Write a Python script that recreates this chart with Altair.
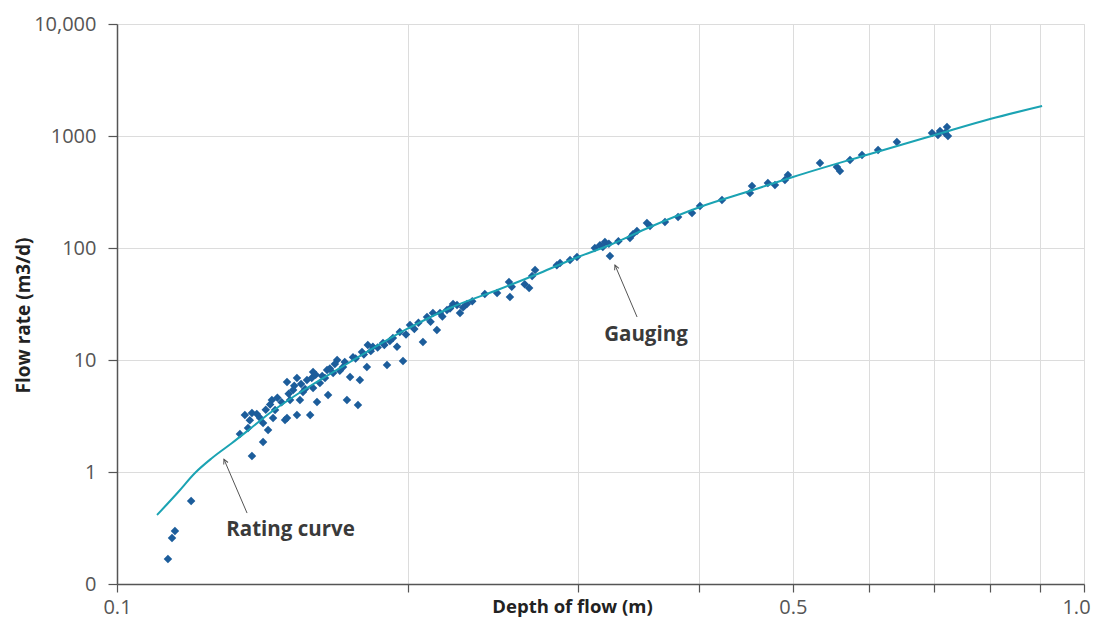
import altair as alt
import pandas as pd

gauge_depth = [
    0.1129, 0.1140, 0.1148, 0.1193,
    0.1340, 0.1356, 0.1366, 0.1379, 0.1379, 0.1406, 0.1416, 0.1416, 0.1433,
    0.1446, 0.1457, 0.1450, 0.1492, 0.1499, 0.1499, 0.1510, 0.1521, 0.1535,
    0.1535, 0.1546, 0.1557, 0.1572, 0.1584, 0.1595, 0.1595, 0.1610, 0.1621,
    0.1641, 0.1649, 0.1653, 0.1673, 0.1689, 0.1713, 0.1729, 0.1742, 0.1754,
    0.1775, 0.1783, 0.1792, 0.1813, 0.1817, 0.1839, 0.1884, 0.1902, 0.1929,
    0.1948, 0.1961, 0.1976, 0.2009, 0.2072, 0.2092, 0.2122, 0.2142,
    0.2158, 0.2194, 0.2226, 0.2247, 0.2263, 0.2301, 0.2401, 0.2472, 0.2549,
    0.2543, 0.2668, 0.2687, 0.2706, 0.2872, 0.2941, 0.2990, 0.3158, 0.3196,
    0.3226, 0.3234, 0.3392, 0.3416, 0.3449, 0.3532, 0.3558, 0.3687, 0.3804,
    0.3932, 0.4008, 0.4223, 0.4514, 0.4536, 0.4711, 0.4791, 0.4906, 0.4941,
    0.5333, 0.5553, 0.5593, 0.5728, 0.5894, 0.6124, 0.6405, 0.6963, 0.7063,
    0.7097, 0.7182, 0.7216, 0.7233,
    0.1372, 0.1395, 0.1425, 0.1440, 0.1465, 0.1480, 0.1505, 0.1525, 0.1550,
    0.1565, 0.1590, 0.1605, 0.1630, 0.1660, 0.1680, 0.1700, 0.1720, 0.1765,
    0.1800, 0.1830, 0.1860, 0.1890, 0.1915, 0.1990, 0.2030, 0.2050, 0.2110,
    0.2170, 0.2210, 0.2280, 0.2330, 0.2560, 0.2640, 0.2850, 0.3120, 0.3180,
    0.3300,
]
gauge_flow = [
    0.167, 0.257, 0.297, 0.551,
    2.18, 3.23, 2.47, 3.36, 1.39, 3.03, 2.74, 1.85, 2.37,
    4.39, 3.58, 3.03, 2.91, 6.36, 3.03, 4.39, 5.40, 6.91,
    3.23, 4.39, 5.18, 6.63, 3.23, 7.82, 5.62, 4.22, 6.23,
    6.91, 8.14, 4.87, 7.65, 10.0, 8.66, 4.39, 7.05, 10.6,
    3.96, 6.63, 11.8, 8.66, 13.6, 13.1, 14.2, 9.02, 15.7,
    13.1, 17.8, 9.80, 20.5, 14.5, 24.2, 26.3, 18.5,
    26.3, 27.9, 31.6, 31.0, 26.3, 31.6, 38.9, 39.7, 36.5,
    49.7, 44.0, 56.2, 63.6, 73.5, 78.1, 83.1, 106, 113,
    109, 84.9, 123, 133, 142, 167, 157, 171, 189,
    205, 237, 268, 310, 358, 381, 365, 405, 449,
    574, 529, 487, 611, 677, 750, 884, 1064, 1021,
    1108, 1064, 1203, 1000,
    2.9, 3.3, 3.6, 4.0, 4.6, 4.2, 5.0, 5.9, 6.1,
    5.5, 6.9, 7.4, 7.2, 8.4, 9.2, 8.0, 9.6, 10.3,
    11.2, 12.0, 12.9, 13.6, 14.8, 16.9, 18.9, 21.5, 22.0,
    24.5, 28.8, 29.5, 33.5, 45.0, 47.5, 70.0, 100, 102,
    115,
]

# Rating curve
curve_depth = [0.1100, 0.1157, 0.1204, 0.1254, 0.1315, 0.1372, 0.1439, 0.1510,
               0.1584, 0.1742, 0.1995, 0.2210, 0.2489, 0.2738, 0.2997, 0.3234,
               0.3558, 0.4008, 0.4514, 0.5000, 0.6007, 0.7013, 0.7995, 0.9050]
curve_flow = [0.413, 0.663, 0.980, 1.334, 1.815, 2.421, 3.364, 4.486,
              5.861, 9.597, 18.92, 29.13, 43.05, 59.84, 83.12, 106.4,
              154.0, 232.3, 322.8, 430.5, 690.9, 1021, 1418, 1853]

# Annotations
ann_text = ["Rating curve", "Gauging"]
ann_x = [0.1297, 0.319]
ann_y = [0.303, 16.7]
arrow_tail_x = [0.1363, 0.345]
arrow_tail_y = [0.430, 24.2]
arrow_tip_x = [0.1290, 0.3273]
arrow_tip_y = [1.30, 70.5]
arrow_angle = [335.6, 337.0]

x_ticks = [0.1, 0.2, 0.3, 0.4, 0.5, 0.6, 0.7, 0.8, 0.9, 1.0]
y_ticks = [0.1, 1, 10, 100, 1000, 10000]

FONT = "Open Sans"

pts = pd.DataFrame({"x": gauge_depth, "y": gauge_flow})
crv = pd.DataFrame({"x": curve_depth, "y": curve_flow})
ann = pd.DataFrame({"x": ann_x, "y": ann_y, "t": ann_text})
arr = pd.DataFrame({"x": arrow_tail_x, "y": arrow_tail_y,
                    "x2": arrow_tip_x, "y2": arrow_tip_y, "a": arrow_angle})

xs = alt.Scale(type="log", domain=[0.1, 1.0], nice=False)
ys = alt.Scale(type="log", domain=[0.1, 10000], nice=False)

x_axis = alt.Axis(
    values=x_ticks,
    labelExpr="abs(datum.value-0.1)<1e-9 ? '0.1' : (abs(datum.value-0.5)<1e-9 ? '0.5' : (abs(datum.value-1)<1e-9 ? '1.0' : ''))",
    labelOffset={"condition": {"test": "datum.value > 0.95", "value": -8}, "value": 0},
    title="Depth of flow (m)",
    titleX=455, titleY=22, titleAlign="center", titleBaseline="middle",
    labelFlush=False, labelOverlap=False,
    grid=True, gridColor="#dcdcdc", gridWidth=1,
    domainColor="#555555", domainWidth=1.5,
    tickColor="#555555", tickWidth=1.2, tickSize=8,
    labelFont=FONT, labelFontSize=20, labelColor="#555555", labelPadding=5,
    titleFont=FONT, titleFontSize=18.5, titleFontWeight="bold", titleColor="#222222",
)
y_axis = alt.Axis(
    values=y_ticks,
    labelExpr="datum.value < 0.5 ? '0' : (datum.value >= 10000 ? '10,000' : format(datum.value, 'd'))",
    title="Flow rate (m3/d)",
    titleX=-94, titleY=291, titleAngle=-90, titleAlign="center", titleBaseline="middle",
    labelOverlap=False,
    grid=True, gridColor="#dcdcdc", gridWidth=1,
    domainColor="#555555", domainWidth=1.5,
    tickColor="#555555", tickWidth=1.2, tickSize=9,
    labelFont=FONT, labelFontSize=20, labelColor="#555555", labelPadding=12,
    titleFont=FONT, titleFontSize=19, titleFontWeight="bold", titleColor="#222222",
)

points = alt.Chart(pts).mark_point(
    shape="diamond", filled=True, size=72, color="#1c5d9b", opacity=1
).encode(
    x=alt.X("x:Q", scale=xs, axis=x_axis),
    y=alt.Y("y:Q", scale=ys, axis=y_axis),
)

curve = alt.Chart(crv).mark_line(
    color="#1ba3b3", strokeWidth=2, interpolate="monotone"
).encode(
    x=alt.X("x:Q", scale=xs),
    y=alt.Y("y:Q", scale=ys),
)

arrows = alt.Chart(arr).mark_rule(color="#555555", strokeWidth=1).encode(
    x=alt.X("x:Q", scale=xs),
    y=alt.Y("y:Q", scale=ys),
    x2="x2:Q",
    y2="y2:Q",
)

heads = alt.Chart(arr).mark_point(
    shape="M-0.6,1.2L0,0L0.6,1.2", filled=False, size=60,
    color="#555555", strokeWidth=1, opacity=1
).encode(
    x=alt.X("x2:Q", scale=xs),
    y=alt.Y("y2:Q", scale=ys),
    angle=alt.Angle("a:Q", scale=None),
)

labels = alt.Chart(ann).mark_text(
    align="left", baseline="middle", font=FONT, fontSize=20.5,
    fontWeight="bold", color="#3a3a3a"
).encode(
    x=alt.X("x:Q", scale=xs),
    y=alt.Y("y:Q", scale=ys),
    text="t:N",
)

chart = alt.layer(points, curve, arrows, heads, labels).properties(
    width=967, height=560,
    autosize=alt.AutoSizeParams(type="none"),
    padding={"left": 109, "top": 16, "right": 8, "bottom": 35},
).configure_view(stroke=None).configure(background="white")

chart.save("out.html", embed_options={"renderer": "svg", "actions": False})
